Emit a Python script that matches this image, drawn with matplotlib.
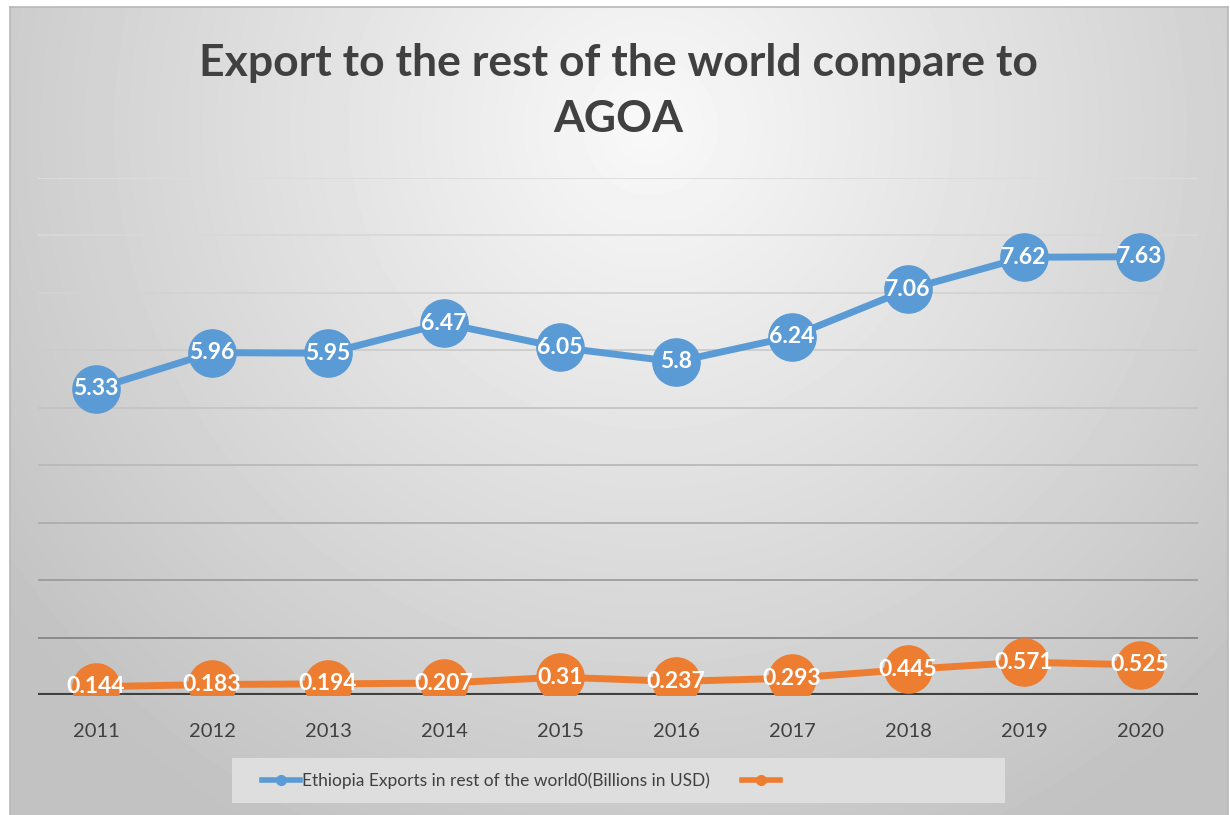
import matplotlib.pyplot as plt
import numpy as np
from matplotlib.patches import Rectangle

plt.rcParams['font.family'] = ['Lato', 'DejaVu Sans']

years = ["2011", "2012", "2013", "2014", "2015", "2016", "2017", "2018", "2019", "2020"]
world_exports = [5.33, 5.96, 5.95, 6.47, 6.05, 5.8, 6.24, 7.06, 7.62, 7.63]
agoa_exports = [0.144, 0.183, 0.194, 0.207, 0.31, 0.237, 0.293, 0.445, 0.571, 0.525]
world_label = "Ethiopia Exports in rest of the world0(Billions in USD)"
agoa_label = ""
title = "Export to the rest of the world compare to\nAGOA"

blue = "#5B9BD5"
orange = "#ED7D31"
text_col = "#404040"

W, H = 1230, 815
fig = plt.figure(figsize=(W / 100, H / 100), dpi=100)

# radial grey gradient behind everything
bg = fig.add_axes([10 / W, 0, 1218 / W, 1 - 7 / H], zorder=0)
yy, xx = np.mgrid[0:808, 0:1218]
r = np.sqrt(((xx - 640) / 900.0) ** 2 + ((yy - 120) / 900.0) ** 2)
shade = np.clip(0.975 - 0.24 * r, 0.76, 0.98)
bg.imshow(shade, cmap="gray", vmin=0, vmax=1, aspect="auto", interpolation="bilinear")
bg.set_xticks([])
bg.set_yticks([])
for s in bg.spines.values():
    s.set_color("#b8b8b8")
    s.set_linewidth(1.2)
bg.spines["bottom"].set_visible(False)

ax = fig.add_axes([38 / W, 1 - 695 / H, 1160 / W, (695 - 178) / H], zorder=1)
ax.patch.set_alpha(0)
x = np.arange(len(years))

# gridlines get darker towards the bottom
grid_cols = ["#404040", "#858585", "#9c9c9c", "#adadad", "#bababa",
             "#c4c4c4", "#cccccc", "#d3d3d3", "#d8d8d8", "#dcdcdc"]
for lvl in range(1, 10):
    ax.axhline(lvl, color=grid_cols[lvl], lw=1.3, zorder=1)
ax.axhline(0, color="#404040", lw=3, zorder=2)

ax.plot(x, world_exports, color=blue, lw=5, marker="o", ms=34,
        label=world_label, zorder=3)
ax.plot(x, agoa_exports, color=orange, lw=5, marker="o", ms=34,
        label=agoa_label, zorder=3)

for xi, v in zip(x, world_exports):
    ax.text(xi, v, f"{v:g}", ha="center", va="center", color="white",
            fontsize=16.5, fontweight="bold", zorder=4)
for xi, v in zip(x, agoa_exports):
    ax.text(xi, v, f"{v:g}", ha="center", va="center", color="white",
            fontsize=16.5, fontweight="bold", zorder=4)

ax.set_xlim(-0.5, 9.5)
ax.set_ylim(0, 9)
ax.set_xticks(x)
ax.set_xticklabels(years, fontsize=14.5, color=text_col)
ax.set_yticks([])
ax.tick_params(axis="x", length=0, pad=20)
for s in ax.spines.values():
    s.set_visible(False)

# title, anchored on the baseline of its second line
fig.text(618 / W, 1 - 132 / H, title, ha="center", va="baseline", fontsize=32,
         fontweight="bold", color=text_col, linespacing=1.48)

# legend box
fig.patches.append(Rectangle((232 / W, 1 - 803 / H), 773 / W, 45 / H,
                             transform=fig.transFigure, facecolor="#dedede",
                             edgecolor="none", zorder=2))
hw = [plt.Line2D([], [], color=blue, lw=4, marker="o", ms=7),
      plt.Line2D([], [], color=orange, lw=4, marker="o", ms=7)]
leg = fig.legend(hw, [world_label, agoa_label], loc="center left",
                 bbox_to_anchor=(246 / W, 1 - 781 / H), ncol=2, frameon=False,
                 fontsize=12.5, handlelength=2.2, handletextpad=0.15,
                 columnspacing=1.8, labelcolor=text_col)
leg.set_zorder(3)

fig.savefig("out.png", dpi=100)
